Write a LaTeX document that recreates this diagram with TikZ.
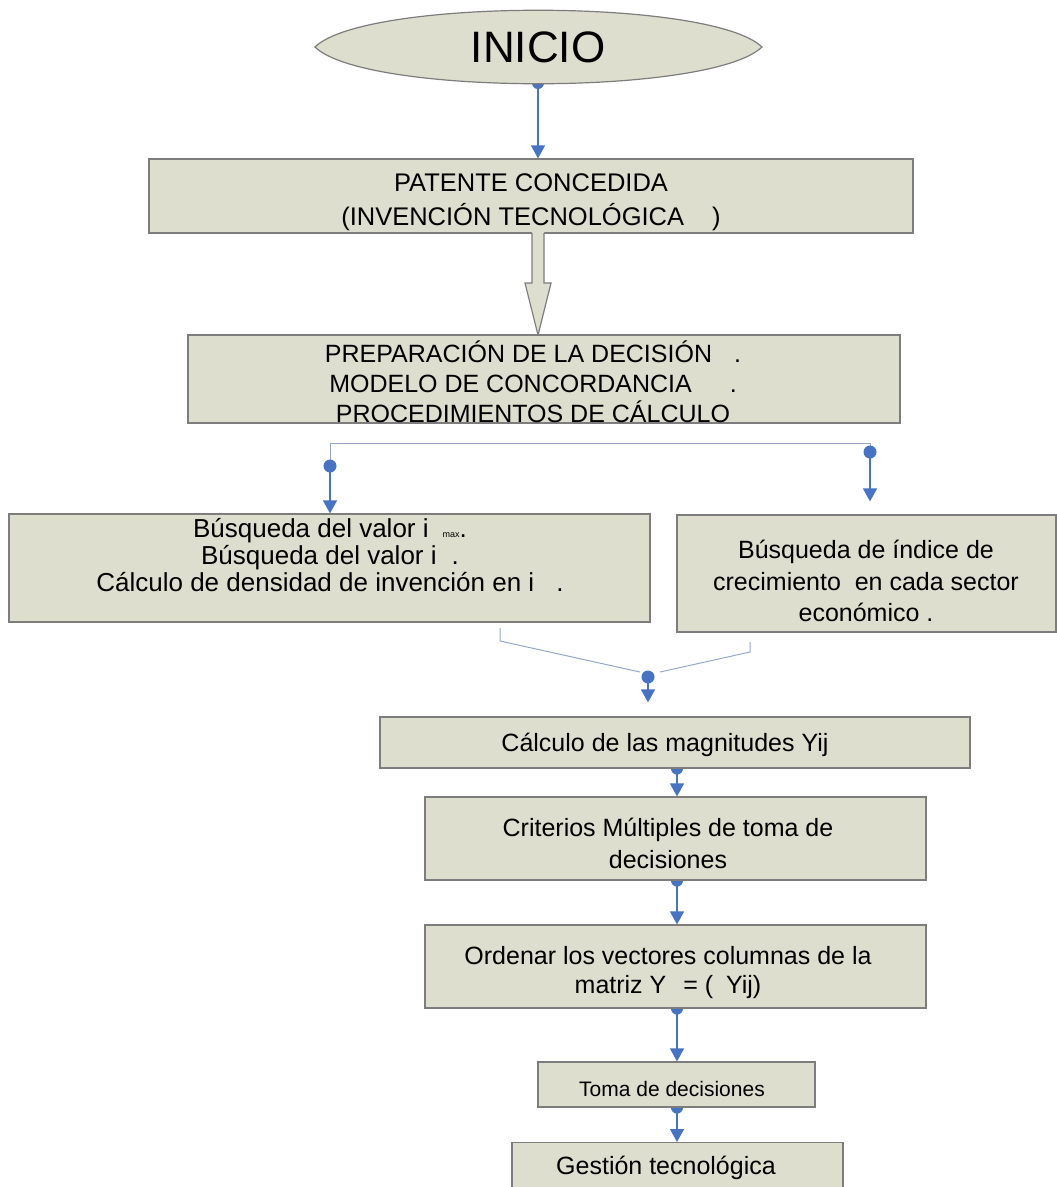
\documentclass[tikz,border=0pt]{standalone}
\usepackage{fontspec}
\setmainfont{Liberation Sans}
\usetikzlibrary{arrows.meta,calc}
\definecolor{boxfill}{RGB}{221,222,205}
\definecolor{boxline}{RGB}{125,125,125}
\definecolor{arrblue}{RGB}{70,115,196}
\definecolor{linegray}{RGB}{150,168,198}
\pgfdeclarelayer{bg}
\pgfsetlayers{bg,main}
\begin{document}
\begin{tikzpicture}[x=1pt,y=-1pt,
  box/.style={draw=boxline, line width=1.2pt, fill=boxfill, inner sep=0pt, rectangle},
  txt/.style={align=center, inner sep=0pt, text=black},
  conn/.style={draw=arrblue, line width=1.2pt, -{Triangle[width=14pt,length=13pt]}},
  thinline/.style={draw=linegray, line width=1pt},
  bdot/.style={fill=arrblue}]
\useasboundingbox (0,0) rectangle (1057,1187);
\begin{pgfonlayer}{bg}
\fill[white] (0,0) rectangle (1057,1187);
\end{pgfonlayer}

% INICIO
\draw[box] (315,47) .. controls (365,-2) and (711,-2) .. (762,47) .. controls (711,96) and (365,96) .. (315,47) -- cycle;
\node[txt, font=\fontsize{44}{44}\selectfont] (inicio) at (538,47) {INICIO};
\coordinate (inis) at (538,83);

% boxes
\node[box, minimum width=764pt, minimum height=74pt] (pat) at (531,196) {};
\node[txt, font=\fontsize{25.5}{34}\selectfont] (patt) at (531,202) {PATENTE CONCEDIDA\\(INVENCIÓN TECNOLÓGICA\hspace{28pt})};

\fill[boxfill] (532,232) -- (544,232) -- (544,283) -- (551,283) -- (538,335) -- (525,283) -- (532,283) -- cycle;
\draw[boxline, line width=1.2pt] (532,233) -- (532,283) -- (525,283) -- (538,335) -- (551,283) -- (544,283) -- (544,233);

\node[box, minimum width=712pt, minimum height=88pt] (prep) at (544,379) {};
\node[txt, font=\fontsize{25}{30}\selectfont] (prept) at (533,382) {PREPARACIÓN DE LA DECISIÓN\hspace{22pt}.\\MODELO DE CONCORDANCIA\hspace{38pt}.\\PROCEDIMIENTOS DE CÁLCULO};

\node[box, minimum width=641pt, minimum height=108pt] (bus) at (329.5,568) {};
\node[txt, font=\fontsize{26}{27}\selectfont] (bust) at (330,555) {Búsqueda del valor i\hspace{14pt}{\fontsize{9}{9}\selectfont max}.\\Búsqueda del valor i\hspace{15pt}.\\Cálculo de densidad de invención en i\hspace{22pt}.};

\node[box, minimum width=379pt, minimum height=117pt] (ind) at (866.5,573.5) {};
\node[txt, font=\fontsize{25}{31.5}\selectfont] (indt) at (866,581) {Búsqueda de índice de\\crecimiento\ \ en cada sector\\económico .};

\node[box, minimum width=590pt, minimum height=51pt] (calc) at (675,742.5) {};
\node[txt, font=\fontsize{25}{30}\selectfont] (calct) at (665,744.5) {Cálculo de las magnitudes Yij};

\node[box, minimum width=501pt, minimum height=83pt] (crit) at (675.5,838.5) {};
\node[txt, font=\fontsize{25}{32}\selectfont] (critt) at (668,843.5) {Criterios Múltiples de toma de\\decisiones};

\node[box, minimum width=501pt, minimum height=83pt] (ord) at (675.5,966.5) {};
\node[txt, font=\fontsize{25}{29}\selectfont] (ordt) at (668,973) {Ordenar los vectores columnas de la\\matriz Y\hspace{10pt} = (\hspace{6pt} Yij)};

\node[box, minimum width=277pt, minimum height=45pt] (toma) at (676.5,1084.5) {};
\node[txt, font=\fontsize{21}{25}\selectfont] (tomat) at (672,1089) {Toma de decisiones};

\node[box, minimum width=331pt, minimum height=60pt, anchor=north] (gest) at (677.5,1142) {};
\node[txt, font=\fontsize{25}{30}\selectfont] (gestt) at (666,1167.5) {Gestión tecnológica};

% connectors
\coordinate (jl) at (330,443);
\coordinate (jr) at (870,443);
\coordinate (dl) at (330,466);
\coordinate (dr) at (870,452);
\coordinate (mg) at (648,677);
\coordinate (ax) at (677,0);
\coordinate (b1) at (500,628);
\coordinate (b2) at (500,641);
\coordinate (b3) at (640,672);
\coordinate (c1) at (750,642);
\coordinate (c2) at (750,652);
\coordinate (c3) at (660,672);

\begin{pgfonlayer}{bg}
\fill[arrblue] (inis) circle[radius=6];
\draw[conn] (inis) -- (pat.north -| inis);

\draw[thinline] (dl) -- (jl) -- (jr) -- (dr);
\fill[arrblue] (dl) circle[radius=6.5];
\draw[conn] (dl) -- (bus.north -| dl);
\fill[arrblue] (dr) circle[radius=6.5];
\draw[conn, shorten >=13pt] (dr) -- (ind.north -| dr);

\draw[thinline] (b1) -- (b2) -- (b3);
\draw[thinline] (c1) -- (c2) -- (c3);
\fill[arrblue] (mg) circle[radius=6.5];
\draw[conn, shorten >=14pt] (mg) -- (calc.north -| mg);

\foreach \a/\b in {calc/crit, crit/ord, ord/toma, toma/gest}{
  \fill[arrblue] (\a.south -| ax) circle[radius=6];
  \draw[conn] (\a.south -| ax) -- (\b.north -| ax);
}
\end{pgfonlayer}
\end{tikzpicture}
\end{document}
